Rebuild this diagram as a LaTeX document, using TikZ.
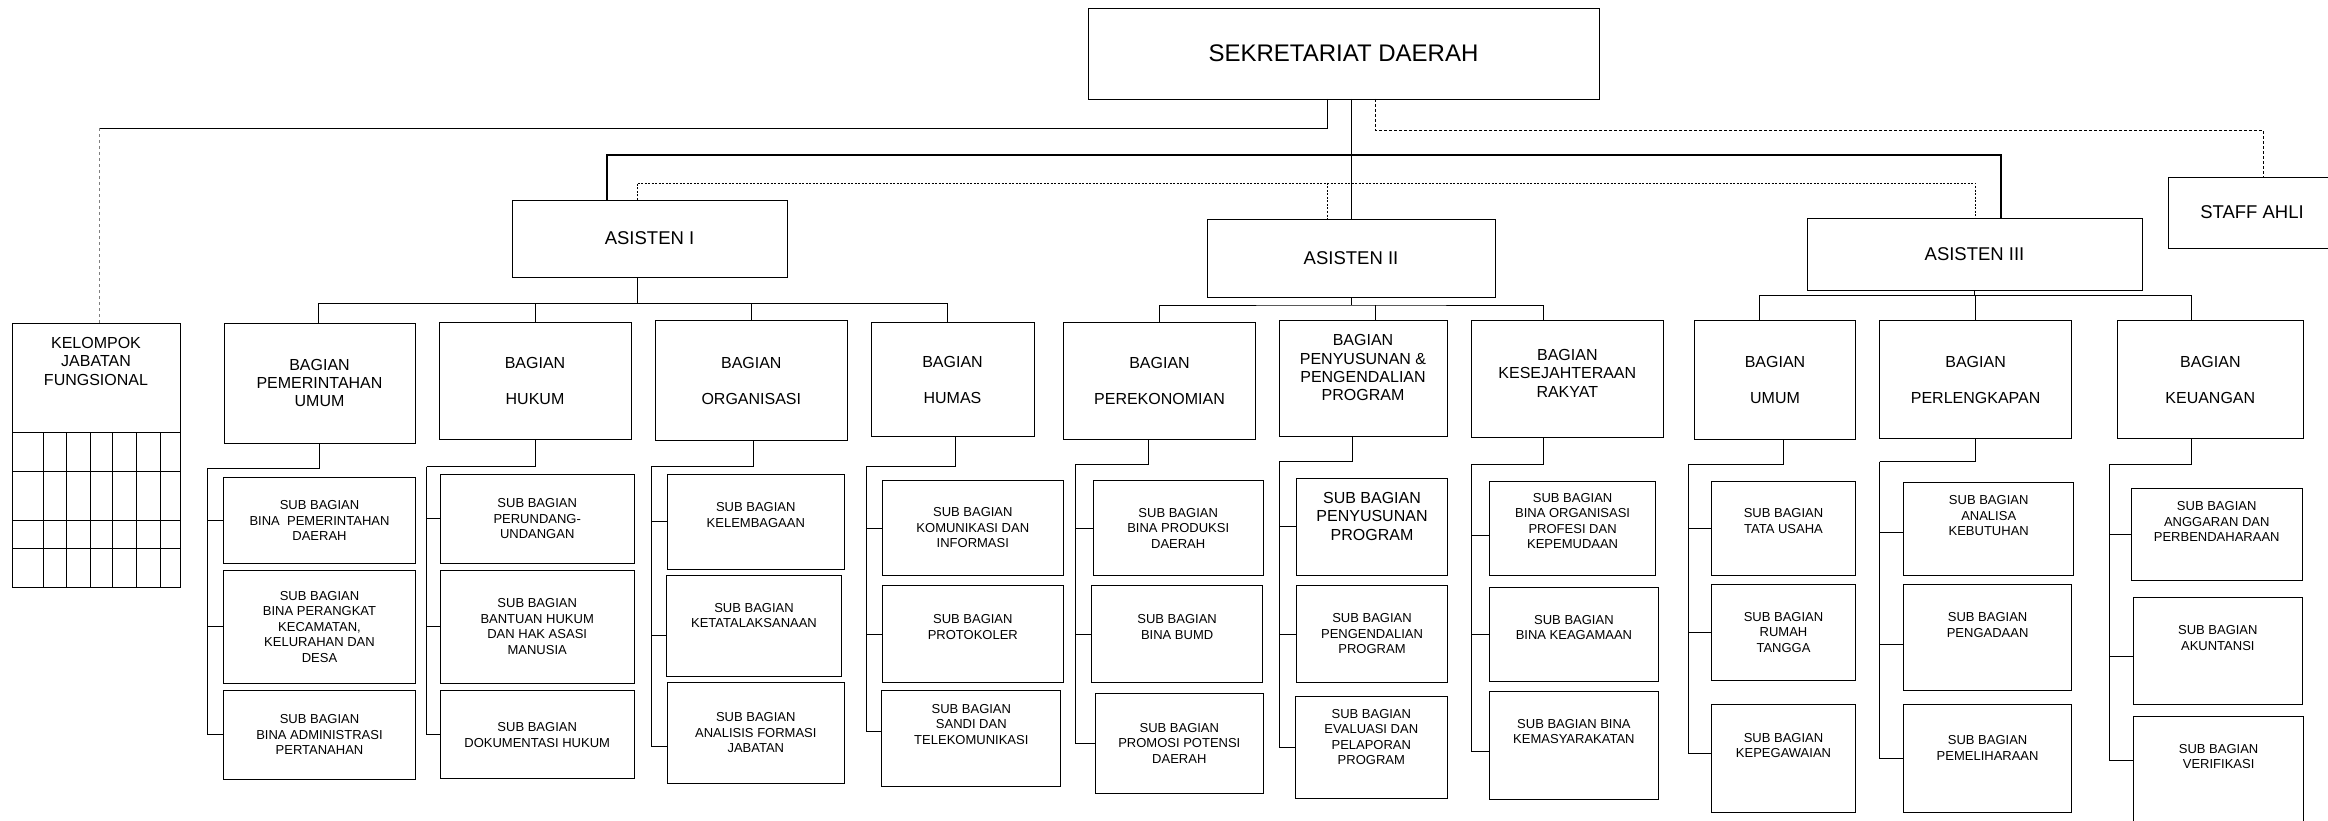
\documentclass[tikz,border=0pt]{standalone}
\usepackage{fontspec}
\setmainfont{Liberation Sans}

\begin{document}
\begin{tikzpicture}[x=1pt,y=-1pt,
    kotak/.style={draw,line width=0.95pt,inner sep=0pt,outer sep=0pt,align=center},
    sz/.style 2 args={minimum width=#1pt,minimum height=#2pt},
    lift/.style={text depth=#1pt},
    kepala/.style={kotak,font=\fontsize{24}{28}\selectfont},
    asisten/.style={kotak,font=\fontsize{18.5}{22}\selectfont},
    bagian/.style={kotak,font=\fontsize{16}{18.3}\selectfont},
    subbag/.style={kotak,font=\fontsize{13}{15.5}\selectfont},
    garis/.style={line width=0.9pt},
    putus/.style={line width=0.9pt,dash pattern=on 3pt off 2pt},
    titik/.style={line width=0.8pt,dash pattern=on 2pt off 1.5pt}]
  \useasboundingbox (0,0) rectangle (2328,821);
  \clip (0,0) rectangle (2328,821);

  % pimpinan
  \node[kepala,sz={511}{91}] (sekda) at (1343.5,53.5) {SEKRETARIAT DAERAH};
  \node[asisten,sz={275}{77}] (asisten1) at (649.5,238.5) {ASISTEN I};
  \node[asisten,sz={288}{78}] (asisten2) at (1351,258) {ASISTEN II};
  \node[asisten,sz={335}{72}] (asisten3) at (1974.5,254) {ASISTEN III};
  \node[asisten,sz={168}{71}] (staff) at (2252,212.5) {STAFF AHLI};

  % kelompok jabatan fungsional
  \node[bagian,sz={168}{109.7},lift=33] (kelompok) at (96,377.85) {KELOMPOK\\JABATAN\\FUNGSIONAL};
  \draw[line width=0.95pt] (kelompok.south west) rectangle (180,587);
  \foreach \y in {471,520,548} \draw[line width=0.95pt] (12,\y) -- (180,\y);
  \foreach \x in {43.2,66.2,90.3,112.1,136.2,160.7} \draw[line width=0.95pt] (\x,432.7) -- (\x,587);

  % bagian
  \node[bagian,sz={191}{120}] (pemum) at (319.5,383) {BAGIAN\\PEMERINTAHAN\\UMUM};
  \node[bagian,sz={192}{117}] (hukum) at (535,381.3) {BAGIAN\\[18pt]HUKUM};
  \node[bagian,sz={191.5}{120}] (organisasi) at (751.3,380.7) {BAGIAN\\[18pt]ORGANISASI};
  \node[bagian,sz={163}{114}] (humas) at (952.5,379.7) {BAGIAN\\[18pt]HUMAS};
  \node[bagian,sz={192}{116.6}] (perekonomian) at (1159.5,381) {BAGIAN\\[18pt]PEREKONOMIAN};
  \node[bagian,sz={168}{116},lift=22] (penyusunan) at (1363,378.7) {BAGIAN\\PENYUSUNAN \&\\PENGENDALIAN\\PROGRAM};
  \node[bagian,sz={192.5}{117},lift=12] (kesra) at (1567.3,379.2) {BAGIAN\\KESEJAHTERAAN\\RAKYAT};
  \node[bagian,sz={161}{118.6}] (umum) at (1775,380) {BAGIAN\\[18pt]UMUM};
  \node[bagian,sz={192}{118}] (perlengkapan) at (1975.6,379.7) {BAGIAN\\[18pt]PERLENGKAPAN};
  \node[bagian,sz={186.5}{118}] (keuangan) at (2210.3,379.7) {BAGIAN\\[18pt]KEUANGAN};

  % sub bagian
  \node[subbag,sz={192}{85.6}] (s11) at (319.5,520.5) {SUB BAGIAN\\BINA\ \ PEMERINTAHAN\\DAERAH};
  \node[subbag,sz={192}{113.3}] (s12) at (319.5,626.7) {SUB BAGIAN\\BINA PERANGKAT\\KECAMATAN,\\KELURAHAN DAN\\DESA};
  \node[subbag,sz={192}{89}] (s13) at (319.5,734.5) {SUB BAGIAN\\BINA ADMINISTRASI\\PERTANAHAN};
  \node[subbag,sz={194.4}{89}] (s21) at (537.2,518.8) {SUB BAGIAN\\PERUNDANG-\\UNDANGAN};
  \node[subbag,sz={194.4}{113.3}] (s22) at (537.2,626.7) {SUB BAGIAN\\BANTUAN HUKUM\\DAN HAK ASASI\\MANUSIA};
  \node[subbag,sz={194.4}{88.3}] (s23) at (537.2,734.8) {SUB BAGIAN\\DOKUMENTASI HUKUM};
  \node[subbag,sz={176.8}{95},lift=14] (s31) at (755.8,521.8) {SUB BAGIAN\\KELEMBAGAAN};
  \node[subbag,sz={175.7}{100.7},lift=20] (s32) at (754,625.7) {SUB BAGIAN\\KETATALAKSANAAN};
  \node[subbag,sz={176.8}{100.6}] (s33) at (755.8,733) {SUB BAGIAN\\ANALISIS FORMASI\\JABATAN};
  \node[subbag,sz={181.5}{94.6}] (s41) at (972.8,528) {SUB BAGIAN\\KOMUNIKASI DAN\\INFORMASI};
  \node[subbag,sz={181.5}{96.6},lift=14] (s42) at (972.8,634) {SUB BAGIAN\\PROTOKOLER};
  \node[subbag,sz={179}{96.4},lift=29] (s43) at (971.3,738.5) {SUB BAGIAN\\SANDI DAN\\TELEKOMUNIKASI};
  \node[subbag,sz={169.7}{94.6}] (s51) at (1178.2,528) {SUB BAGIAN\\BINA PRODUKSI\\DAERAH};
  \node[subbag,sz={170.6}{96.6},lift=14] (s52) at (1177.1,634) {SUB BAGIAN\\BINA BUMD};
  \node[subbag,sz={167.4}{100}] (s53) at (1179.3,743.3) {SUB BAGIAN\\PROMOSI POTENSI\\DAERAH};
  \node[subbag,font=\fontsize{16}{18.3}\selectfont,sz={150.4}{96.7},lift=21] (s61) at (1372,526.7) {SUB BAGIAN\\PENYUSUNAN\\PROGRAM};
  \node[subbag,sz={150.4}{96.6}] (s62) at (1372,634) {SUB BAGIAN\\PENGENDALIAN\\PROGRAM};
  \node[subbag,sz={151.9}{101.6},lift=21] (s63) at (1371.3,747.5) {SUB BAGIAN\\EVALUASI DAN\\PELAPORAN\\PROGRAM};
  \node[subbag,sz={165.7}{94.3},lift=14] (s71) at (1572.6,528.2) {SUB BAGIAN\\BINA ORGANISASI\\PROFESI DAN\\KEPEMUDAAN};
  \node[subbag,sz={168.3}{94.4},lift=14] (s72) at (1573.9,634.5) {SUB BAGIAN\\BINA KEAGAMAAN};
  \node[subbag,sz={168.3}{107.6},lift=28] (s73) at (1573.9,745.5) {SUB BAGIAN BINA\\KEMASYARAKATAN};
  \node[subbag,sz={144.3}{94.3},lift=14] (s81) at (1783.5,528.2) {SUB BAGIAN\\TATA USAHA};
  \node[subbag,sz={144.3}{95.7}] (s82) at (1783.5,632.2) {SUB BAGIAN\\RUMAH\\TANGGA};
  \node[subbag,sz={144.3}{108},lift=26] (s83) at (1783.5,758.3) {SUB BAGIAN\\KEPEGAWAIAN};
  \node[subbag,sz={170.3}{92.6},lift=27] (s91) at (1988.7,529) {SUB BAGIAN\\ANALISA\\KEBUTUHAN};
  \node[subbag,sz={168.1}{106.4},lift=25] (s92) at (1987.6,637.5) {SUB BAGIAN\\PENGADAAN};
  \node[subbag,sz={168.1}{108},lift=21] (s93) at (1987.6,758.3) {SUB BAGIAN\\PEMELIHARAAN};
  \node[subbag,sz={170.6}{92},lift=25] (s101) at (2216.7,534.3) {SUB BAGIAN\\ANGGARAN DAN\\PERBENDAHARAAN};
  \node[subbag,sz={168.4}{106.6},lift=26] (s102) at (2217.8,651) {SUB BAGIAN\\AKUNTANSI};
  \node[subbag,sz={170}{114},lift=33] (s103) at (2218.6,773) {SUB BAGIAN\\VERIFIKASI};

  % sekretariat ke asisten
  \coordinate (hub) at (1351,155);
  \draw[garis] ([xshift=7.5pt]sekda.south) -- (asisten2.north);
  \draw[garis,line width=1.3pt] ([xshift=-42.5pt]asisten1.north) |- (hub) -| ([xshift=26.5pt]asisten3.north);

  % ke kelompok jabatan fungsional
  \coordinate (kf) at (99.5,128);
  \draw[garis] ([xshift=-16.5pt]sekda.south) |- (kf);
  \draw[line width=0.6pt,dashed,gray] (kf) -- (kf |- kelompok.north);

  % ke staff ahli
  \coordinate (sa) at (2263,130.7);
  \draw[putus] ([xshift=32pt]sekda.south) |- (sa) -- (sa |- staff.north);

  % koordinasi antar asisten
  \coordinate (koor) at (1327,183);
  \draw[titik] ([xshift=-12.5pt]asisten1.north) |- (koor) -| ([xshift=0.5pt]asisten3.north);
  \draw[titik] (koor) -- (koor |- asisten2.north);

  % asisten ke bagian
  \coordinate (b1) at (637,303.5);
  \draw[garis] ([xshift=-12.5pt]asisten1.south) -- (b1);
  \draw[garis] ([xshift=-1.5pt]pemum.north) |- (b1) -| ([xshift=-5pt]humas.north);
  \draw[garis] (hukum.north) -- (hukum.north |- b1);
  \draw[garis] (organisasi.north) -- (organisasi.north |- b1);

  \coordinate (b2) at (1351,305);
  \draw[garis] (asisten2.south) -- (b2);
  \draw[garis] (perekonomian.north) |- (b2) -| ([xshift=-24pt]kesra.north);
  \draw[garis] ([xshift=12pt]penyusunan.north) -- ++(0,-15.7);

  \coordinate (b3) at (1974.5,295.5);
  \draw[garis] (asisten3.south) -- (b3);
  \draw[garis] ([xshift=-16pt]umum.north) |- (b3) -| ([xshift=-19pt]keuangan.north);
  \draw[garis] (perlengkapan.north) -- (perlengkapan.north |- b3);

  % bagian ke sub bagian
  \coordinate (k1) at (207.8,468.3);
  \draw[garis] (pemum.south) |- (k1);
  \foreach \s/\d in {s11/0,s12/0,s13/0} \draw[garis] (k1) |- ([yshift=\d pt]\s.west);
  \coordinate (k2) at (426.7,466.7);
  \draw[garis] (hukum.south) |- (k2);
  \foreach \s/\d in {s21/0,s22/0,s23/0} \draw[garis] (k2) |- ([yshift=\d pt]\s.west);
  \coordinate (k3) at (651.3,466.7);
  \draw[garis] ([xshift=2.5pt]organisasi.south) |- (k3);
  \foreach \s/\d in {s31/0,s32/-10,s33/-13} \draw[garis] (k3) |- ([yshift=\d pt]\s.west);
  \coordinate (k4) at (866.4,466.7);
  \draw[garis] ([xshift=3pt]humas.south) |- (k4);
  \foreach \s/\d in {s41/0,s42/0,s43/7.5} \draw[garis] (k4) |- ([yshift=\d pt]\s.west);
  \coordinate (k5) at (1075.7,464);
  \draw[garis] ([xshift=-10.7pt]perekonomian.south) |- (k5);
  \foreach \s/\d in {s51/0,s52/0,s53/0} \draw[garis] (k5) |- ([yshift=\d pt]\s.west);
  \coordinate (k6) at (1279.6,461.3);
  \draw[garis] ([xshift=-10.7pt]penyusunan.south) |- (k6);
  \foreach \s/\d in {s61/0,s62/0,s63/0} \draw[garis] (k6) |- ([yshift=\d pt]\s.west);
  \coordinate (k7) at (1471.3,464);
  \draw[garis] ([xshift=-24pt]kesra.south) |- (k7);
  \foreach \s/\d in {s71/-7,s72/0,s73/-6} \draw[garis] (k7) |- ([yshift=\d pt]\s.west);
  \coordinate (k8) at (1688,464);
  \draw[garis] ([xshift=8.5pt]umum.south) |- (k8);
  \foreach \s/\d in {s81/0,s82/0,s83/5} \draw[garis] (k8) |- ([yshift=\d pt]\s.west);
  \coordinate (k9) at (1879.6,461.7);
  \draw[garis] (perlengkapan.south) |- (k9);
  \foreach \s/\d in {s91/-3,s92/-6.5,s93/0} \draw[garis] (k9) |- ([yshift=\d pt]\s.west);
  \coordinate (k10) at (2109,464);
  \draw[garis] ([xshift=-18.8pt]keuangan.south) |- (k10);
  \foreach \s/\d in {s101/0,s102/-5,s103/12.3} \draw[garis] (k10) |- ([yshift=\d pt]\s.west);
\end{tikzpicture}
\end{document}
